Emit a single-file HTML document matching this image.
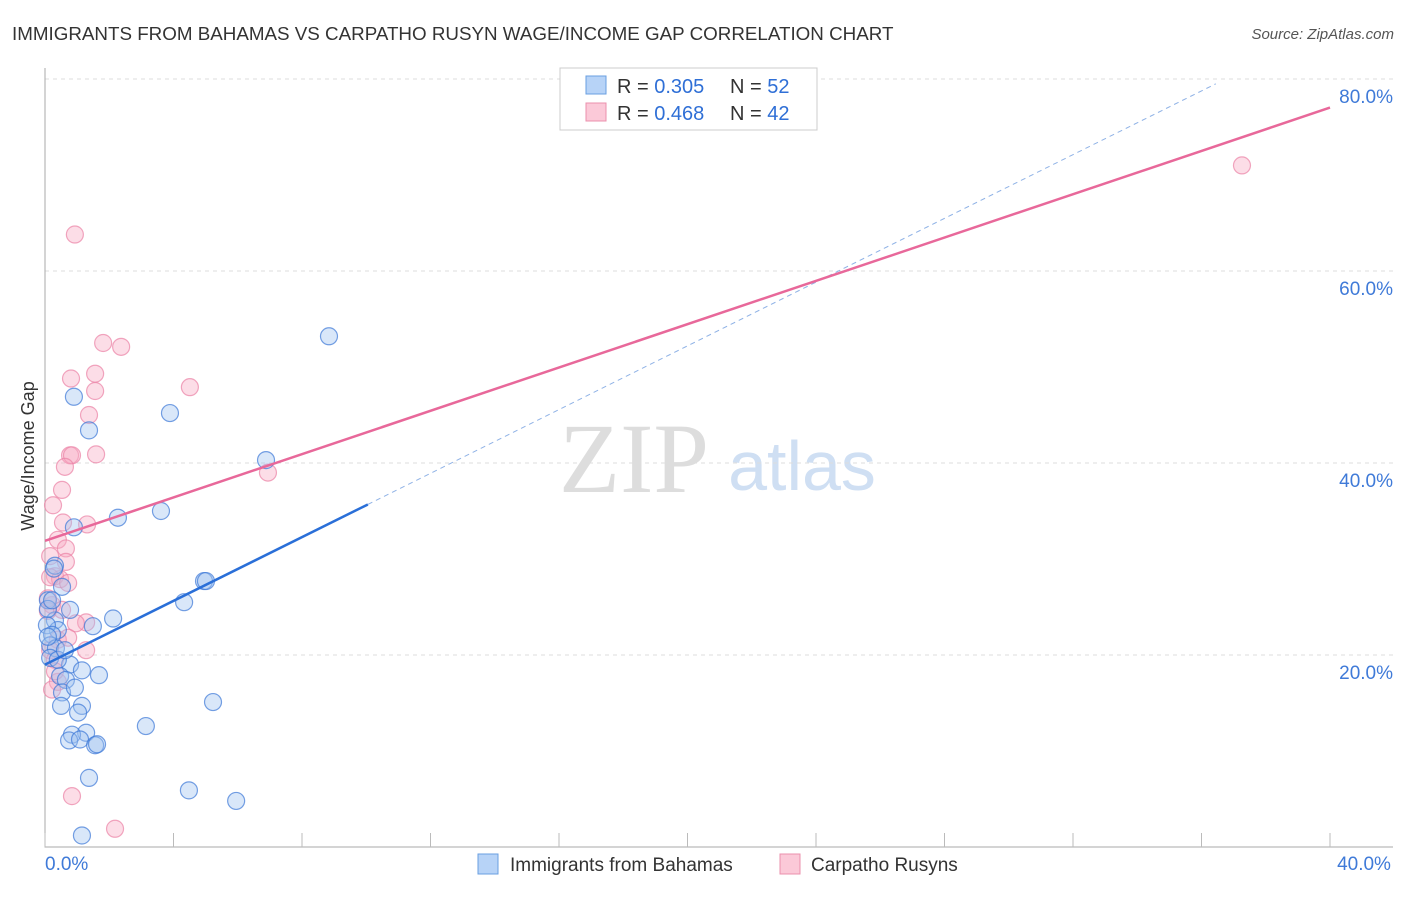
<!DOCTYPE html>
<html><head><meta charset="utf-8"><style>
body{margin:0;background:#fff;font-family:"Liberation Sans",sans-serif}
svg text{font-family:"Liberation Sans",sans-serif}
</style></head><body>
<svg id="chart" width="1406" height="892" xmlns="http://www.w3.org/2000/svg">
<text x="12" y="40" font-size="18.8" fill="#333">IMMIGRANTS FROM BAHAMAS VS CARPATHO RUSYN WAGE/INCOME GAP CORRELATION CHART</text>
<text x="1394" y="39" font-size="15" fill="#555" text-anchor="end" font-style="italic">Source: ZipAtlas.com</text>
<text x="634" y="492" font-size="100" fill="#ddd" text-anchor="middle" style="font-family:'Liberation Serif',serif">ZIP</text>
<text x="802" y="490" font-size="70" fill="#cfdff3" text-anchor="middle">atlas</text>
<text transform="translate(34,456) rotate(-90)" font-size="18" fill="#333" text-anchor="middle">Wage/Income Gap</text>
<g id="grid"></g><g id="pts"></g><g id="lines"></g>
<g>
<rect x="560" y="68" width="257" height="62" fill="#fff" stroke="#ccc"/>
<rect x="586" y="76" width="20" height="18" fill="#b7d3f7" stroke="#6a9fe0"/>
<rect x="586" y="103" width="20" height="18" fill="#fbc9d8" stroke="#eb90ad"/>
<text x="617" y="93" font-size="20" fill="#333">R = <tspan fill="#2f6fd6">0.305</tspan></text>
<text x="730" y="93" font-size="20" fill="#333">N = <tspan fill="#2f6fd6">52</tspan></text>
<text x="617" y="120" font-size="20" fill="#333">R = <tspan fill="#2f6fd6">0.468</tspan></text>
<text x="730" y="120" font-size="20" fill="#333">N = <tspan fill="#2f6fd6">42</tspan></text>
</g>
<g>
<rect x="478" y="854" width="20" height="20" fill="#b7d3f7" stroke="#6a9fe0"/>
<text x="510" y="871" font-size="19" fill="#333">Immigrants from Bahamas</text>
<rect x="780" y="854" width="20" height="20" fill="#fbc9d8" stroke="#eb90ad"/>
<text x="811" y="871" font-size="19" fill="#333">Carpatho Rusyns</text>
</g>
</svg>
<script>
const yTicks=[20,40,60,80];
const yTickLabels=["20.0%","40.0%","60.0%","80.0%"];
const xTicks=[0,4,8,12,16,20,24,28,32,36,40];
const xEndLabels=["0.0%","40.0%"];
const bahamasX=[8.84,3.89,0.9,1.37,6.88,3.61,2.27,0.9,0.31,0.53,4.95,5.01,4.33,2.12,0.78,0.09,0.31,1.49,0.4,0.06,0.22,0.16,0.34,0.16,0.78,1.15,1.68,0.47,0.65,0.53,1.15,0.5,1.03,5.23,3.14,1.28,0.84,0.75,1.09,1.56,1.62,1.37,4.48,5.95,1.15,0.28,0.09,0.4,0.62,0.09,0.22,0.93];
const bahamasY=[53.2,45.2,46.9,43.4,40.3,35.0,34.3,33.3,29.3,27.1,27.7,27.7,25.5,23.8,24.7,25.7,23.6,23.0,22.6,23.1,22.1,21.0,20.7,19.7,19.0,18.4,17.9,17.8,17.4,16.1,14.7,14.7,14.0,15.1,12.6,11.9,11.7,11.1,11.2,10.6,10.7,7.2,5.9,4.8,1.2,29.0,21.9,19.5,20.5,24.8,25.7,16.6];
const rusynX=[0.93,37.26,1.81,2.37,0.81,1.56,1.56,4.51,1.37,0.78,0.84,1.59,0.62,6.94,0.53,0.25,0.56,1.31,0.4,0.65,0.16,0.65,0.31,0.47,0.72,0.16,0.22,0.09,1.28,0.96,0.4,0.72,0.16,1.28,0.31,0.4,0.84,2.18,0.31,0.53,0.09,0.22];
const rusynY=[63.8,71.0,52.5,52.1,48.8,49.3,47.5,47.9,45.0,40.8,40.8,40.9,39.6,39.0,37.2,35.6,33.8,33.6,32.0,31.1,30.3,29.7,28.2,27.9,27.5,28.1,25.2,24.6,23.4,23.3,21.6,21.8,20.5,20.5,19.5,17.2,5.3,1.9,18.3,24.7,25.9,16.4];
const trendIntercept=[19.0,31.9];
const trendSlope=[1.66,1.128];
const solidEnd=[10.05,40];
const L=45,R=1330,B=847;
const sx=v=>L+(R-L)*v/40, sy=v=>B-9.6*v;
const NS="http://www.w3.org/2000/svg";
function mk(tag,attrs,parent){const e=document.createElementNS(NS,tag);for(const k in attrs)e.setAttribute(k,attrs[k]);parent.appendChild(e);return e;}
const grid=document.getElementById('grid');
yTicks.forEach((t,i)=>{
 const g=mk('line',{x1:L,x2:1393,y1:sy(t),y2:sy(t),stroke:'#ddd','stroke-dasharray':'4,4'},grid);
 
 
 const tx=mk('text',{x:1393,y:sy(t)+24,'font-size':19,fill:'#3f7ad8','text-anchor':'end'},grid);
 tx.textContent=yTickLabels[i];
 
 
});
const ax=mk('path',{d:`M${L},68V${B}H1393`,stroke:'#aaa',fill:'none'},grid);


xTicks.forEach(t=>{
 const tk=mk('line',{x1:sx(t),x2:sx(t),y1:B-14,y2:B,stroke:'#bbb'},grid);
 
 
});
[[0,xEndLabels[0]],[40,xEndLabels[1]]].forEach(([v,s])=>{
 const tx=mk('text',{x:v==0?L:sx(v)+34,y:870,'font-size':19,fill:'#3f7ad8','text-anchor':v==0?'start':'middle'},grid);
 tx.textContent=s;
 
 
});
const pts=document.getElementById('pts');
rusynX.forEach((x,i)=>{
 const c=mk('circle',{cx:sx(x),cy:sy(rusynY[i]),r:8.5,fill:'rgba(247,170,195,0.4)',stroke:'rgba(235,130,165,0.7)','stroke-width':1.2},pts);
 
 
});
bahamasX.forEach((x,i)=>{
 const c=mk('circle',{cx:sx(x),cy:sy(bahamasY[i]),r:8.5,fill:'rgba(160,195,240,0.4)',stroke:'rgba(60,120,215,0.7)','stroke-width':1.2},pts);
 
 
});
const lines=document.getElementById('lines');
const cols=['#2a6fd8','#e8689a'];
const names=['bahamas-trendline','rusyn-trendline'];
[0,1].forEach(k=>{
 const f=v=>trendIntercept[k]+trendSlope[k]*v;
 if(k==0){
  const xe=(79.5-trendIntercept[0])/trendSlope[0];
  const d=mk('line',{x1:sx(solidEnd[0]),y1:sy(f(solidEnd[0])),x2:sx(xe),y2:sy(f(xe)),stroke:'#8fb2e6','stroke-dasharray':'5,4','stroke-width':1},lines);
  
  
 }
 const l=mk('line',{x1:sx(0),y1:sy(f(0)),x2:sx(solidEnd[k]),y2:sy(f(solidEnd[k])),stroke:cols[k],'stroke-width':2.5},lines);
 
 
});
</script>
</body></html>
